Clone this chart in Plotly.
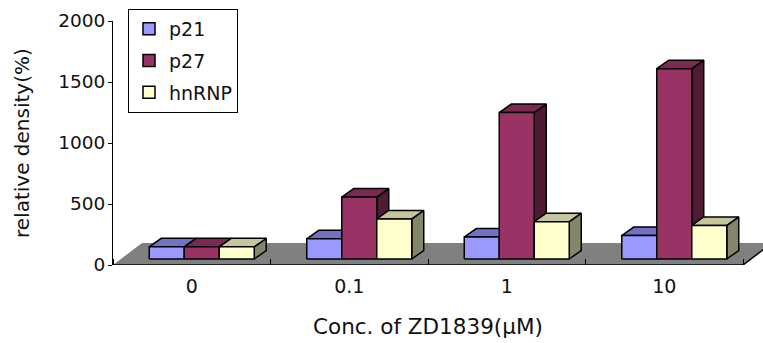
import plotly.graph_objects as go

# ---- data ----
categories = ["0", "0.1", "1", "10"]
series_names = ["p21", "p27", "hnRNP"]
p21 = [100, 165, 180, 192]
p27 = [100, 508, 1200, 1560]
hnrnp = [100, 328, 306, 275]
y_ticks = [0, 500, 1000, 1500, 2000]
x_title = "Conc. of ZD1839(μM)"
y_title = "relative density(%)"

# ---- style ----
front_colors = ["#9999FF", "#993366", "#FFFFCC"]
top_colors = ["#7272C4", "#7A2952", "#C6C69E"]
side_colors = ["#4D4D80", "#4F1A34", "#85856A"]
floor_color = "#808080"
FONT = "DejaVu Sans"

W, H = 763, 343
ML, MR, MT, MB = 113, 0, 21, 78
plot_w = W - ML - MR
plot_h = H - MT - MB
px_per_cat = 157.5
XMAX = plot_w / px_per_cat
YMAX = 2000
px_per_y = plot_h / YMAX


def dxu(px):
    return px / px_per_cat


def dyu(px):
    return px / px_per_y


FDX, FDY = dxu(29), dyu(22)      # floor depth
SX, SY = dxu(10), dyu(6)         # bar front-plane shift
BDX, BDY = dxu(12), dyu(8.5)     # bar depth
BAR_W = 1 / 4.5
GROUP_OFF = (1 - 3 * BAR_W) / 2

series = [p21, p27, hnrnp]
n_cat = len(categories)

fig = go.Figure()

# legend entries
for k, name in enumerate(series_names):
    fig.add_trace(go.Scatter(
        x=[None], y=[None], mode="markers", name=name,
        legendgroup=name,
        marker=dict(symbol="square", size=12, color=front_colors[k],
                    line=dict(color="black", width=1.5)),
    ))

# floor
fig.add_trace(go.Scatter(
    x=[0, n_cat, n_cat + FDX, FDX, 0],
    y=[0, 0, FDY, FDY, 0],
    mode="lines", fill="toself", fillcolor=floor_color,
    line=dict(color=floor_color, width=0), showlegend=False, hoverinfo="skip",
))
fig.add_trace(go.Scatter(
    x=[0, n_cat, n_cat + FDX],
    y=[0, 0, FDY],
    mode="lines", line=dict(color="black", width=1.5),
    showlegend=False, hoverinfo="skip",
))


def poly(xs, ys, color):
    fig.add_trace(go.Scatter(
        x=xs + [xs[0]], y=ys + [ys[0]], mode="lines", fill="toself",
        fillcolor=color, line=dict(color="black", width=1.5),
        showlegend=False, hoverinfo="skip",
    ))


for i in range(n_cat):
    for k, vals in enumerate(series):
        x0 = i + GROUP_OFF + k * BAR_W + SX
        x1 = x0 + BAR_W
        b = SY
        t = SY + vals[i]
        # side
        poly([x1, x1 + BDX, x1 + BDX, x1], [b, b + BDY, t + BDY, t], side_colors[k])
        # top
        poly([x0, x1, x1 + BDX, x0 + BDX], [t, t, t + BDY, t + BDY], top_colors[k])
        # front
        poly([x0, x1, x1, x0], [b, b, t, t], front_colors[k])

fig.update_layout(
    width=W, height=H,
    margin=dict(l=ML, r=MR, t=MT, b=MB, pad=0),
    paper_bgcolor="white", plot_bgcolor="white",
    font=dict(family=FONT, size=18, color="#111111"),
    showlegend=True,
    legend=dict(
        x=(128 - ML) / plot_w, y=(plot_h + MT - 9) / plot_h,
        xanchor="left", yanchor="top",
        bordercolor="black", borderwidth=1, bgcolor="white",
        font=dict(family=FONT, size=19, color="#111111"),
        tracegroupgap=4, traceorder="grouped",
    ),
    xaxis=dict(
        range=[0, XMAX], tickmode="array",
        tickvals=[i + 0.5 for i in range(n_cat)], ticktext=categories,
        ticks="", showline=False, showgrid=False, zeroline=False,
        tickfont=dict(size=19), ticklabelstandoff=8,
        minor=dict(tickmode="array", tickvals=list(range(n_cat + 1)),
                   ticks="inside", ticklen=6, tickcolor="black", tickwidth=1),
        fixedrange=True,
    ),
    yaxis=dict(
        range=[0, YMAX], tickmode="array", tickvals=y_ticks,
        ticks="outside", ticklen=4, tickcolor="black",
        showline=True, linecolor="black", linewidth=1,
        showgrid=False, zeroline=False, tickfont=dict(size=18.5),
        ticklabelstandoff=-1,
        fixedrange=True,
    ),
    annotations=[
        dict(text=x_title, xref="x", yref="paper", x=n_cat / 2,
             y=(265 - 326) / plot_h, xanchor="center", yanchor="middle",
             showarrow=False, font=dict(family=FONT, size=21.5, color="#111111")),
        dict(text=y_title, xref="paper", yref="paper", x=(22 - ML) / plot_w,
             y=0.5, xanchor="center", yanchor="middle", textangle=-90,
             showarrow=False, font=dict(family=FONT, size=20, color="#111111")),
    ],
)

fig.write_html("out.html")
